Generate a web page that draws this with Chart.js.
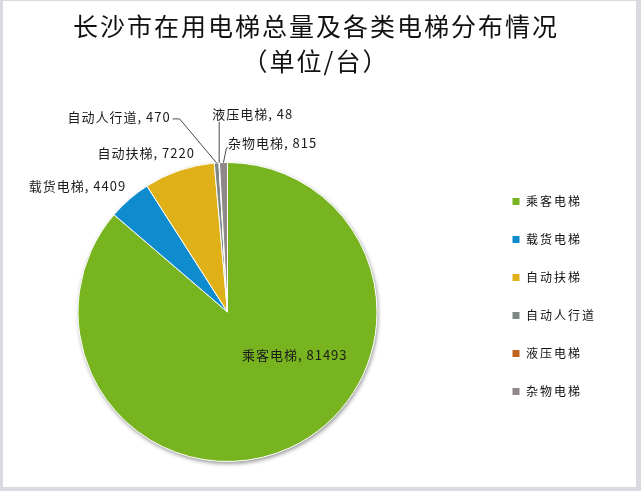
<!DOCTYPE html>
<html>
<head>
<meta charset="utf-8">
<script src="https://cdn.jsdelivr.net/npm/chart.js@4"></script>
<style>
  html, body { margin: 0; padding: 0; }
  body { width: 641px; height: 491px; background: #d9dae0; overflow: hidden; position: relative; }
  #frame { position: absolute; left: 3px; top: 1px; width: 633px; height: 486px; background: #fff; overflow: hidden; }
  #title { position: absolute; left: 0; top: 7px; width: 626px; text-align: center;
           font: 25px/35px "Noto Sans CJK SC", sans-serif; letter-spacing: 2px; color: #111; }
  #myChart { position: absolute; left: -34px; top: 0; }
</style>
</head>
<body>
<div id="frame">
  <canvas id="myChart" width="670" height="486"></canvas>
  <div id="title">长沙市在用电梯总量及各类电梯分布情况<br>（单位/台）</div>
</div>
<script>
// data
var categories = ['乘客电梯', '载货电梯', '自动扶梯', '自动人行道', '液压电梯', '杂物电梯'];
var values = [81493, 4409, 7220, 470, 48, 815];
var colors = ['#77b420', '#0f8cce', '#dfb018', '#7d8884', '#c2621f', '#8e8889'];

// where each value label sits, relative to the slice edge (or centre for the big one)
var labelStyle = [
  { inside: true, dx: 36, dy: -25, align: 'center' },
  { dx: -52, dy: -13, align: 'center' },
  { dx: -33, dy: -17, align: 'center' },
  { dx: -46, dy: -46, align: 'right', line: [[-37, -44], [-44, -44]] },
  { dx: -7, dy: -49, align: 'left', line: [[0, -41]] },
  { dx: 4.5, dy: -19, align: 'left', line: [[3, -14.5], [4.5, -15]] }
];

var cjk = '"Noto Sans CJK SC", sans-serif';

var pieShadow = {
  id: 'pieShadow',
  beforeDraw: function(chart) { chart.ctx.letterSpacing = '2px'; },
  beforeDatasetsDraw: function(chart) {
    var arc = chart.getDatasetMeta(0).data[0];
    if (!arc) return;
    var p = arc.getProps(['x', 'y', 'outerRadius']);
    var ctx = chart.ctx;
    ctx.save();
    ctx.letterSpacing = '0px';
    ctx.shadowColor = 'rgba(0,0,0,0.45)';
    ctx.shadowBlur = 4;
    ctx.shadowOffsetX = 1;
    ctx.shadowOffsetY = 2;
    ctx.fillStyle = '#fff';
    ctx.beginPath();
    ctx.arc(p.x, p.y, p.outerRadius, 0, Math.PI * 2);
    ctx.fill();
    ctx.restore();
  },
  afterDraw: function(chart) { chart.ctx.letterSpacing = '0px'; }
};

var sliceLabels = {
  id: 'sliceLabels',
  afterDatasetsDraw: function(chart) {
    var ctx = chart.ctx;
    var meta = chart.getDatasetMeta(0);
    ctx.save();
    ctx.font = '13px ' + cjk;
    ctx.letterSpacing = '1px';
    ctx.fillStyle = '#1b1b1b';
    ctx.strokeStyle = '#4a4a4a';
    ctx.lineWidth = 1;
    ctx.textBaseline = 'middle';
    meta.data.forEach(function(arc, i) {
      var st = labelStyle[i];
      var p = arc.getProps(['x', 'y', 'startAngle', 'endAngle', 'outerRadius']);
      var mid = (p.startAngle + p.endAngle) / 2;
      var ax, ay;
      if (st.inside) {
        var t = arc.tooltipPosition();
        ax = t.x; ay = t.y;
      } else {
        ax = p.x + Math.cos(mid) * p.outerRadius;
        ay = p.y + Math.sin(mid) * p.outerRadius;
      }
      if (st.line) {
        ctx.beginPath();
        ctx.moveTo(ax, ay);
        st.line.forEach(function(d) { ctx.lineTo(ax + d[0], ay + d[1]); });
        ctx.stroke();
      }
      ctx.textAlign = st.align;
      ctx.fillText(categories[i] + ', ' + values[i], ax + st.dx, ay + st.dy);
    });
    ctx.restore();
  }
};

var mychart = document.getElementById('myChart').getContext('2d');
var myPie = new Chart(mychart, {
  type: 'pie',
  data: {
    labels: categories,
    datasets: [{
      data: values,
      backgroundColor: colors,
      borderColor: '#ffffff',
      borderWidth: 1
    }]
  },
  options: {
    responsive: false,
    animation: false,
    events: [],
    layout: { padding: { left: 0, right: 43, top: 161, bottom: 25 } },
    plugins: {
      tooltip: { enabled: false },
      legend: {
        position: 'right',
        align: 'start',
        // empty title only used to push the items down a little
        title: { display: true, text: '', padding: 0, font: { size: 6, lineHeight: 1.25 } },
        labels: {
          boxWidth: 8,
          boxHeight: 8,
          padding: 26,
          color: '#111',
          font: { family: cjk, size: 12 }
        }
      }
    }
  },
  plugins: [pieShadow, sliceLabels]
});
</script>
</body>
</html>
